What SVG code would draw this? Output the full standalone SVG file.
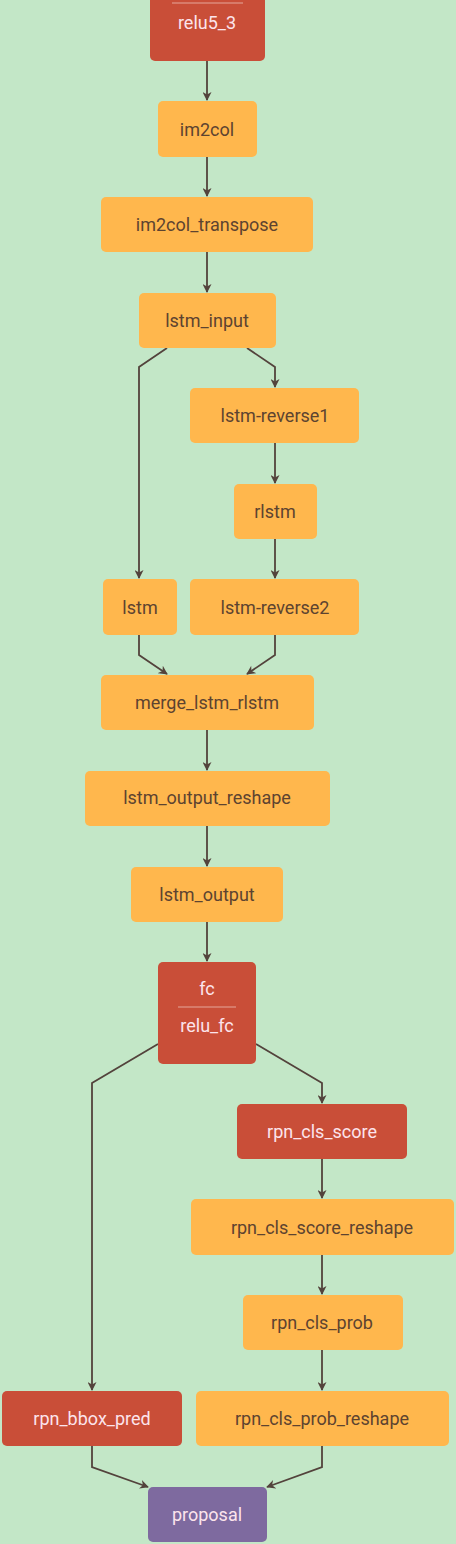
<svg xmlns="http://www.w3.org/2000/svg" width="456" height="1544" viewBox="0 0 456 1544">
<defs>
<marker id="arr" viewBox="0 0 10 10" refX="9" refY="5" markerWidth="10" markerHeight="9" markerUnits="userSpaceOnUse" orient="auto">
<path d="M0,0 L10,5 L0,10 L3,5 z" fill="#53433c"/>
</marker>
<style>
.o rect{fill:#ffb74d}
.r rect{fill:#c94e38}
.p rect{fill:#7e6a9f}
text{font-family:Roboto,"Liberation Sans",sans-serif;font-size:18px;text-anchor:middle;dominant-baseline:central}
.o text{fill:#5d4330}
.r text,.p text{fill:#fce4ec}
.div{stroke:#e6a59a;stroke-width:1.2}
#edges path{fill:none;stroke:#53433c;stroke-width:1.8;marker-end:url(#arr)}
</style>
</defs>
<rect width="456" height="1544" fill="#c3e7c7"/>
<g id="edges">
<path d="M207,61 V100"/>
<path d="M207,157 V196"/>
<path d="M207,252 V292"/>
<path d="M167,348 L139,367 V578"/>
<path d="M247,348 L275,367 V387"/>
<path d="M275,443 V483"/>
<path d="M275,539 V578"/>
<path d="M139,635 V655 L167,674"/>
<path d="M275,635 V655 L247,674"/>
<path d="M207,730 V770"/>
<path d="M207,826 V866"/>
<path d="M207,922 V961"/>
<path d="M158,1044 L92,1083 V1390"/>
<path d="M256,1044 L322,1083 V1103"/>
<path d="M322,1159 V1198"/>
<path d="M322,1255 V1294"/>
<path d="M322,1350 V1390"/>
<path d="M92,1446 V1467 L148,1487"/>
<path d="M322,1446 V1467 L267,1487"/>
</g>
<g id="relu5_3" class="r"><rect x="150" y="-42" width="115" height="103" rx="5"/><line class="div" x1="172" y1="3" x2="243" y2="3"/><text x="207" y="22">relu5_3</text></g>
<g id="im2col" class="o"><rect x="158" y="101" width="99" height="56" rx="5"/><text x="207" y="129">im2col</text></g>
<g id="im2col_transpose" class="o"><rect x="101" y="197" width="212" height="55" rx="5"/><text x="207" y="224">im2col_transpose</text></g>
<g id="lstm_input" class="o"><rect x="139" y="293" width="137" height="55" rx="5"/><text x="207" y="320">lstm_input</text></g>
<g id="lstm-reverse1" class="o"><rect x="190" y="388" width="169" height="55" rx="5"/><text x="275" y="415">lstm-reverse1</text></g>
<g id="rlstm" class="o"><rect x="234" y="484" width="83" height="55" rx="5"/><text x="275" y="511">rlstm</text></g>
<g id="lstm" class="o"><rect x="103" y="579" width="74" height="56" rx="5"/><text x="140" y="607">lstm</text></g>
<g id="lstm-reverse2" class="o"><rect x="190" y="579" width="169" height="56" rx="5"/><text x="275" y="607">lstm-reverse2</text></g>
<g id="merge_lstm_rlstm" class="o"><rect x="101" y="675" width="213" height="55" rx="5"/><text x="207" y="702">merge_lstm_rlstm</text></g>
<g id="lstm_output_reshape" class="o"><rect x="85" y="771" width="245" height="55" rx="5"/><text x="207" y="797">lstm_output_reshape</text></g>
<g id="lstm_output" class="o"><rect x="131" y="867" width="152" height="55" rx="5"/><text x="207" y="894">lstm_output</text></g>
<g id="fc" class="r"><rect x="158" y="962" width="98" height="102" rx="5"/><text x="207" y="988">fc</text><line class="div" x1="178" y1="1007" x2="236" y2="1007"/><text x="207" y="1025">relu_fc</text></g>
<g id="rpn_cls_score" class="r"><rect x="237" y="1104" width="170" height="55" rx="5"/><text x="322" y="1131">rpn_cls_score</text></g>
<g id="rpn_cls_score_reshape" class="o"><rect x="191" y="1199" width="263" height="56" rx="5"/><text x="322" y="1227">rpn_cls_score_reshape</text></g>
<g id="rpn_cls_prob" class="o"><rect x="243" y="1295" width="160" height="55" rx="5"/><text x="322" y="1322">rpn_cls_prob</text></g>
<g id="rpn_bbox_pred" class="r"><rect x="2" y="1391" width="180" height="55" rx="5"/><text x="92" y="1418">rpn_bbox_pred</text></g>
<g id="rpn_cls_prob_reshape" class="o"><rect x="196" y="1391" width="253" height="55" rx="5"/><text x="322" y="1418">rpn_cls_prob_reshape</text></g>
<g id="proposal" class="p"><rect x="148" y="1487" width="119" height="55" rx="5"/><text x="207" y="1514">proposal</text></g>
</svg>
